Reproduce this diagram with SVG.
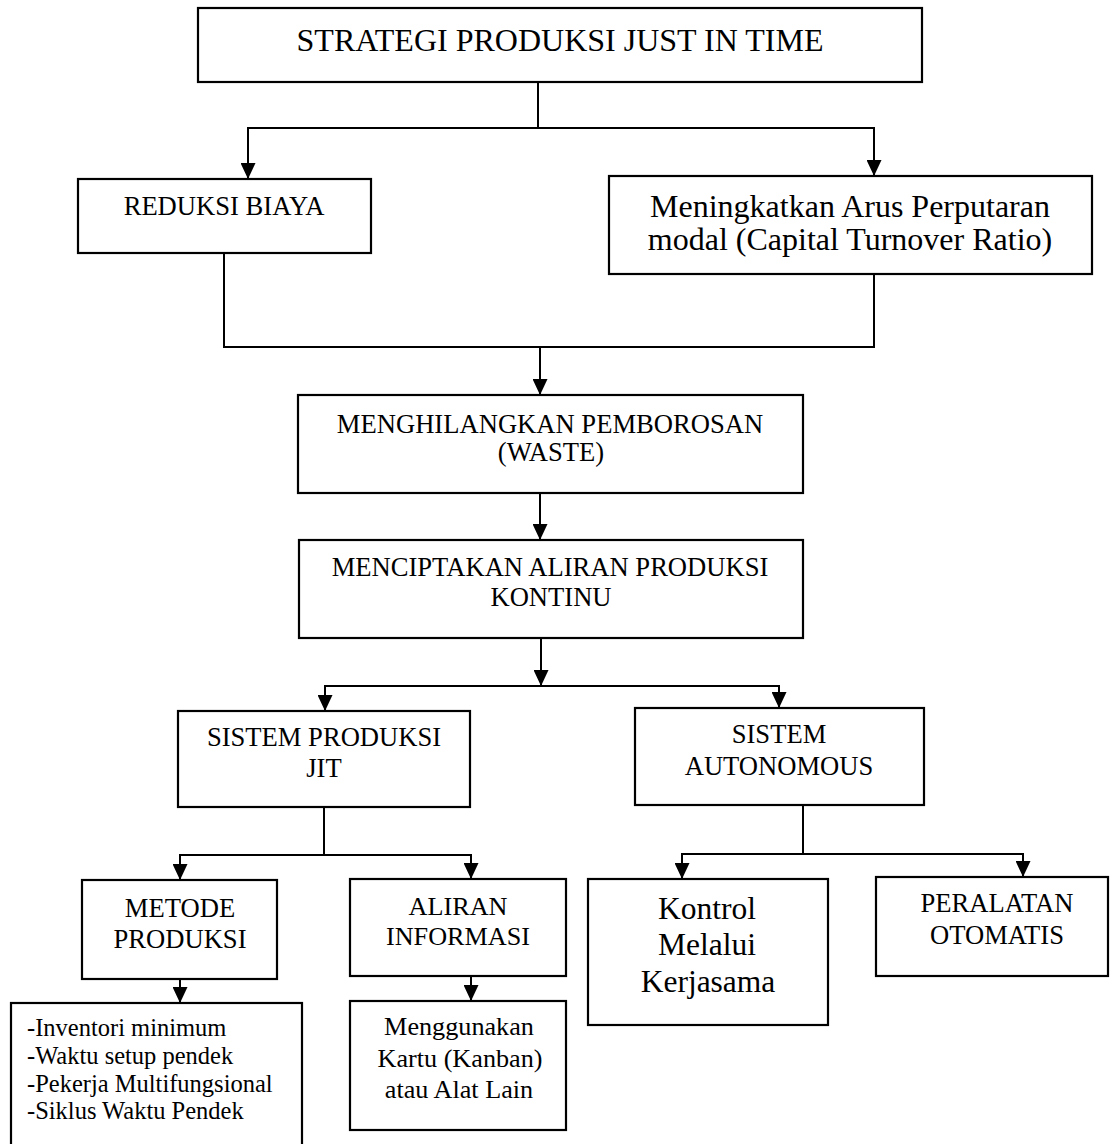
<svg xmlns="http://www.w3.org/2000/svg" width="1110" height="1144" viewBox="0 0 1110 1144">
  <style>
    .box { fill: #ffffff; stroke: #000000; stroke-width: 2.2; }
    .wire { fill: none; stroke: #000000; stroke-width: 2; }
    .arrow { fill: none; stroke: #000000; stroke-width: 2; marker-end: url(#head); }
    text { font-family: "Liberation Serif", "Times New Roman", serif; fill: #000000; text-anchor: middle; }
    .t32 { font-size: 32px; }
    .t31 { font-size: 31.5px; }
    .t27 { font-size: 26.6px; }
    .t26 { font-size: 26.2px; }
    .list { font-size: 24.5px; text-anchor: start; }
  </style>
  <defs>
    <marker id="head" markerUnits="userSpaceOnUse" viewBox="0 0 16 15" markerWidth="16" markerHeight="15" refX="16" refY="7.5" orient="auto">
      <path d="M0,0 L16,7.5 L0,15 Z" fill="#000000"/>
    </marker>
  </defs>

  <!-- connectors -->
  <g id="connectors">
    <!-- strategy splits into two goals -->
    <polyline class="wire" points="538,82 538,128"/>
    <polyline class="wire" points="248,128 874,128"/>
    <polyline class="arrow" points="248,127 248,179"/>
    <polyline class="arrow" points="874,127 874,176"/>
    <!-- two goals merge -->
    <polyline class="wire" points="224,253 224,347 874,347 874,274"/>
    <polyline class="arrow" points="540,347 540,395"/>
    <!-- waste to continuous flow -->
    <polyline class="arrow" points="540,493 540,540"/>
    <!-- continuous flow splits into two systems -->
    <polyline class="arrow" points="541,638 541,686"/>
    <polyline class="wire" points="325,686 779,686"/>
    <polyline class="arrow" points="325,685 325,711"/>
    <polyline class="arrow" points="779,685 779,708"/>
    <!-- JIT system branches -->
    <polyline class="wire" points="324,807 324,855"/>
    <polyline class="wire" points="180,855 471,855"/>
    <polyline class="arrow" points="180,854 180,880"/>
    <polyline class="arrow" points="471,854 471,879"/>
    <polyline class="arrow" points="180,979 180,1003"/>
    <polyline class="arrow" points="471,976 471,1001"/>
    <!-- autonomous system branches -->
    <polyline class="wire" points="803,805 803,854"/>
    <polyline class="wire" points="682,854 1023,854"/>
    <polyline class="arrow" points="682,853 682,879"/>
    <polyline class="arrow" points="1023,853 1023,877"/>
  </g>

  <g id="strategi">
    <rect class="box" x="198" y="8" width="724" height="74"/>
    <text class="t32" x="560" y="51">STRATEGI PRODUKSI JUST IN TIME</text>
  </g>

  <g id="reduksi-biaya">
    <rect class="box" x="78" y="179" width="293" height="74"/>
    <text class="t27" x="224" y="215">REDUKSI BIAYA</text>
  </g>

  <g id="arus-perputaran">
    <rect class="box" x="609" y="176" width="483" height="98"/>
    <text class="t32" x="850" y="217">Meningkatkan Arus Perputaran</text>
    <text class="t32" x="850" y="250">modal (Capital Turnover Ratio)</text>
  </g>

  <g id="pemborosan">
    <rect class="box" x="298" y="395" width="505" height="98"/>
    <text class="t27" x="550" y="433">MENGHILANGKAN PEMBOROSAN</text>
    <text class="t27" x="551" y="461">(WASTE)</text>
  </g>

  <g id="aliran-kontinu">
    <rect class="box" x="299" y="540" width="504" height="98"/>
    <text class="t27" x="550" y="576">MENCIPTAKAN ALIRAN PRODUKSI</text>
    <text class="t27" x="551" y="606">KONTINU</text>
  </g>

  <g id="sistem-jit">
    <rect class="box" x="178" y="711" width="292" height="96"/>
    <text class="t27" x="324" y="746">SISTEM PRODUKSI</text>
    <text class="t27" x="324" y="777">JIT</text>
  </g>

  <g id="sistem-autonomous">
    <rect class="box" x="635" y="708" width="289" height="97"/>
    <text class="t27" x="779" y="743">SISTEM</text>
    <text class="t27" x="779" y="775">AUTONOMOUS</text>
  </g>

  <g id="metode-produksi">
    <rect class="box" x="82" y="880" width="195" height="99"/>
    <text class="t27" x="180" y="917">METODE</text>
    <text class="t27" x="180" y="948">PRODUKSI</text>
  </g>

  <g id="daftar-metode">
    <rect class="box" x="11" y="1003" width="291" height="150"/>
    <text class="list" x="27" y="1036">-Inventori minimum</text>
    <text class="list" x="27" y="1064">-Waktu setup pendek</text>
    <text class="list" x="27" y="1092">-Pekerja Multifungsional</text>
    <text class="list" x="27" y="1119">-Siklus Waktu Pendek</text>
  </g>

  <g id="aliran-informasi">
    <rect class="box" x="350" y="879" width="216" height="97"/>
    <text class="t26" x="458" y="915">ALIRAN</text>
    <text class="t26" x="458" y="945">INFORMASI</text>
  </g>

  <g id="kanban">
    <rect class="box" x="350" y="1001" width="216" height="129"/>
    <text class="t26" x="459" y="1035">Menggunakan</text>
    <text class="t26" x="460" y="1067">Kartu (Kanban)</text>
    <text class="t26" x="459" y="1098">atau Alat Lain</text>
  </g>

  <g id="kontrol-kerjasama">
    <rect class="box" x="588" y="879" width="240" height="146"/>
    <text class="t31" x="707" y="919">Kontrol</text>
    <text class="t31" x="707" y="955">Melalui</text>
    <text class="t31" x="708" y="992">Kerjasama</text>
  </g>

  <g id="peralatan-otomatis">
    <rect class="box" x="876" y="877" width="232" height="99"/>
    <text class="t27" x="997" y="912">PERALATAN</text>
    <text class="t27" x="997" y="944">OTOMATIS</text>
  </g>
</svg>
